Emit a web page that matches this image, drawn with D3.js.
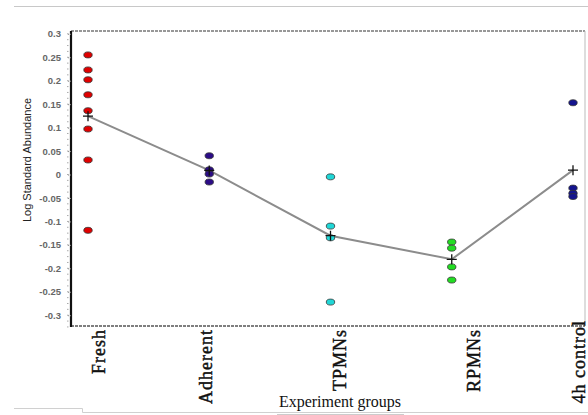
<!DOCTYPE html>
<html>
<head>
<meta charset="utf-8">
<script src="https://cdn.jsdelivr.net/npm/d3@7/dist/d3.min.js"></script>
<style>
  html, body { margin: 0; padding: 0; background: #fff; }
  svg { display: block; }
</style>
</head>
<body>
<svg id="chart" width="588" height="415"></svg>
<script>
// Experiment groups along the x axis
const groups = ["Fresh", "Adherent", "TPMNs", "RPMNs", "4h control"];

// Log standard abundance of each replicate, per group
const freshValues     = [0.255, 0.223, 0.202, 0.170, 0.136, 0.097, 0.031, -0.119];
const adherentValues  = [0.040, 0.010, 0.001, -0.016];
const tpmnValues      = [-0.005, -0.110, -0.135, -0.272];
const rpmnValues      = [-0.144, -0.157, -0.197, -0.225];
const controlValues   = [0.153, -0.029, -0.040, -0.047];

const groupValues = [freshValues, adherentValues, tpmnValues, rpmnValues, controlValues];
const groupColors = ["#e00000", "#2b0c86", "#20d6d6", "#22dd22", "#14148e"];

// y-axis tick labels
const yTicks = [0.3, 0.25, 0.2, 0.15, 0.1, 0.05, 0, -0.05, -0.1, -0.15, -0.2, -0.25, -0.3];
const yTickLabels = ["0.3", "0.25", "0.2", "0.15", "0.1", "0.05", "0", "-0.05", "-0.1", "-0.15", "-0.2", "-0.25", "-0.3"];

const svg = d3.select("#chart");

const plot = { left: 71, right: 585, top: 31, bottom: 326 };

const x = d3.scalePoint().domain(groups).range([88, 573]);
const y = d3.scaleLinear().domain([-0.323, 0.306]).range([plot.bottom, plot.top]);

// page decorations: thin rules above and below the figure
svg.append("line").attr("x1", 14).attr("x2", 588).attr("y1", 6.5).attr("y2", 6.5)
  .attr("stroke", "#c8c8c8").attr("stroke-width", 1);
svg.append("path").attr("d", "M14,408.5H82.5V412.5H588")
  .attr("fill", "none").attr("stroke", "#d0d0d0").attr("stroke-width", 1);

// plot frame
svg.append("line").attr("x1", plot.left).attr("x2", plot.right)
  .attr("y1", plot.top).attr("y2", plot.top)
  .attr("stroke", "#777").attr("stroke-width", 1.5).attr("stroke-dasharray", "3,1");
svg.append("line").attr("x1", plot.right).attr("x2", plot.right)
  .attr("y1", plot.top).attr("y2", plot.bottom)
  .attr("stroke", "#bbb").attr("stroke-width", 1);
svg.append("line").attr("x1", plot.left).attr("x2", plot.right)
  .attr("y1", plot.bottom).attr("y2", plot.bottom)
  .attr("stroke", "#555").attr("stroke-width", 1.5).attr("stroke-dasharray", "3,1");

// y axis
const yAxis = d3.axisLeft(y)
  .tickValues(yTicks)
  .tickFormat((d, i) => yTickLabels[i])
  .tickSize(4)
  .tickPadding(6);

const gy = svg.append("g")
  .attr("transform", `translate(${plot.left},0)`)
  .call(yAxis);
gy.select(".domain").attr("stroke", "#111").attr("stroke-width", 2.2)
  .attr("d", `M0,${plot.top}V${plot.bottom + 1}`);
gy.selectAll(".tick line").attr("stroke", "#888").attr("stroke-dasharray", "1,1");
gy.selectAll(".tick text")
  .attr("font-family", "Liberation Sans, Arial, sans-serif")
  .attr("font-size", "9.5px")
  .attr("font-weight", "bold")
  .attr("fill", "#666");

// minor tick dots between labelled ticks
const minor = d3.range(-0.325, 0.31, 0.0125);
svg.append("g").selectAll("rect").data(minor).join("rect")
  .attr("x", plot.left - 4)
  .attr("y", d => y(d) - 0.5)
  .attr("width", 1.5).attr("height", 1)
  .attr("fill", "#aaa");

// y axis title
svg.append("text")
  .attr("transform", "translate(31,160) rotate(-90)")
  .attr("text-anchor", "middle")
  .attr("font-family", "Liberation Sans, Arial, sans-serif")
  .attr("font-size", "11px")
  .attr("fill", "#222")
  .text("Log Standard Abundance");

// group means joined by a line
const means = groups.map((g, i) => ({ group: g, value: d3.mean(groupValues[i]) }));

svg.append("path")
  .datum(means)
  .attr("fill", "none")
  .attr("stroke", "#8c8c8c")
  .attr("stroke-width", 2)
  .attr("d", d3.line().x(d => x(d.group)).y(d => y(d.value)));

// replicate points
const points = groups.flatMap((g, i) =>
  groupValues[i].map(v => ({ group: g, value: v, color: groupColors[i] })));

svg.append("g").selectAll("ellipse").data(points).join("ellipse")
  .attr("cx", d => x(d.group))
  .attr("cy", d => y(d.value))
  .attr("rx", 4.2).attr("ry", 3)
  .attr("fill", d => d.color)
  .attr("stroke", "#333")
  .attr("stroke-width", 0.8);

// mean markers
svg.append("g").selectAll("path").data(means).join("path")
  .attr("d", d => {
    const cx = x(d.group), cy = y(d.value);
    return `M${cx - 5},${cy}H${cx + 5}M${cx},${cy - 5}V${cy + 5}`;
  })
  .attr("stroke", "#111")
  .attr("stroke-width", 1.3);

// category labels, set vertically below the axis
const labelNudge = [10, -4, 8, 21, 5];
const labelLift = [0, 0, 0, 0, 9];
svg.append("g").selectAll("text").data(groups).join("text")
  .attr("transform", (d, i) =>
    `translate(${x(d) + labelNudge[i] + 7},${plot.bottom + 3 - labelLift[i]}) rotate(-90)`)
  .attr("text-anchor", "end")
  .attr("font-family", "Liberation Serif, Times New Roman, serif")
  .attr("font-size", "18px")
  .attr("letter-spacing", "1px")
  .attr("fill", "#111")
  .attr("stroke", "#111")
  .attr("stroke-width", 0.45)
  .text(d => d);

// x axis title
svg.append("text")
  .attr("x", 340)
  .attr("y", 407)
  .attr("text-anchor", "middle")
  .attr("font-family", "Liberation Serif, Times New Roman, serif")
  .attr("font-size", "16px")
  .attr("fill", "#111")
  .text("Experiment groups");
svg.append("line").attr("x1", 277).attr("x2", 404).attr("y1", 414.5).attr("y2", 414.5)
  .attr("stroke", "#ccc").attr("stroke-width", 1);
</script>
</body>
</html>
